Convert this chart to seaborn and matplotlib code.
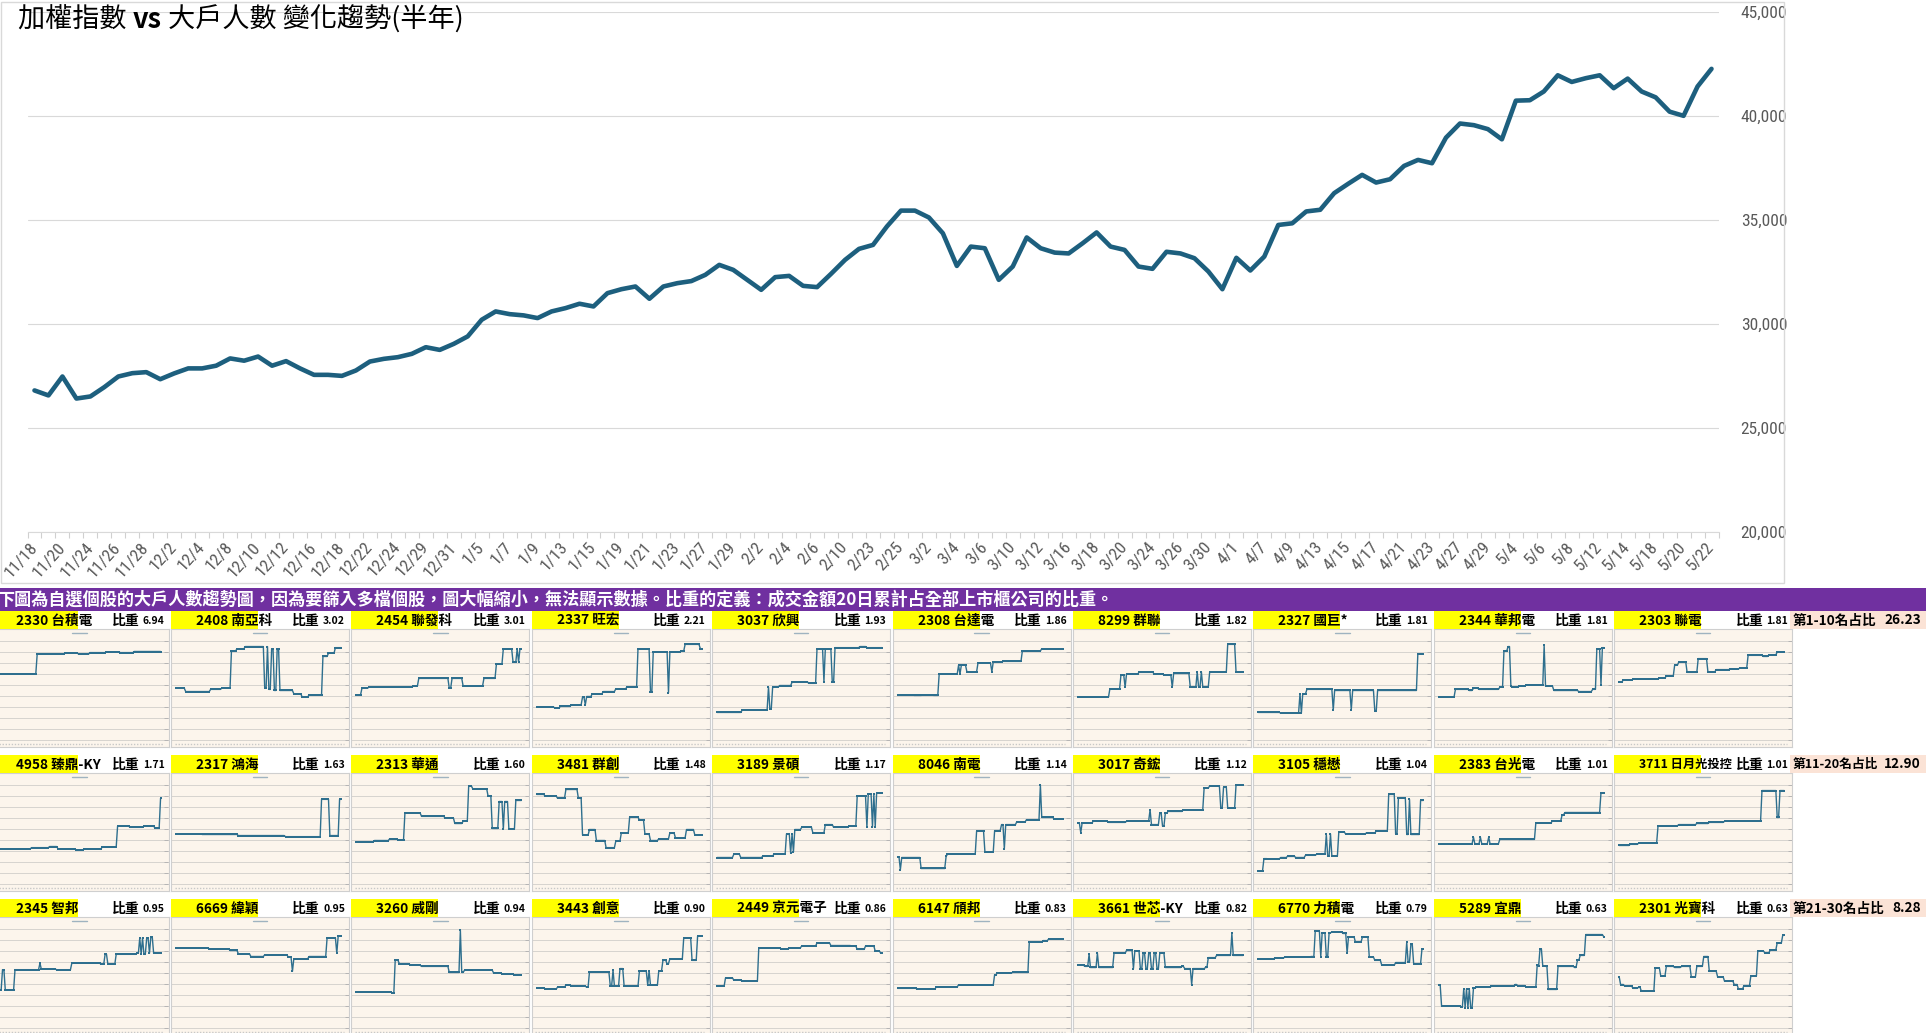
import numpy as np
import pandas as pd
import matplotlib
matplotlib.use("Agg")
import matplotlib.pyplot as plt
import seaborn as sns
from matplotlib import font_manager
from matplotlib.patches import Rectangle

# ---------------- data ----------------
DATES = ['11/18','11/19','11/20','11/21','11/24','11/25','11/26','11/27','11/28',
         '12/1','12/2','12/3','12/4','12/5','12/8','12/9','12/10','12/11','12/12',
         '12/15','12/16','12/17','12/18','12/19','12/22','12/23','12/24','12/26',
         '12/29','12/30','12/31','1/2','1/5','1/6','1/7','1/8','1/9','1/12','1/13',
         '1/14','1/15','1/16','1/19','1/20','1/21','1/22','1/23','1/26','1/27','1/28',
         '1/29','1/30','2/2','2/3','2/4','2/5','2/6','2/9','2/10','2/11','2/23','2/24',
         '2/25','2/26','3/2','3/3','3/4','3/5','3/6','3/9','3/10','3/11','3/12','3/13',
         '3/16','3/17','3/18','3/19','3/20','3/23','3/24','3/25','3/26','3/27','3/30',
         '3/31','4/1','4/2','4/7','4/8','4/9','4/10','4/13','4/14','4/15','4/16','4/17',
         '4/20','4/21','4/22','4/23','4/24','4/27','4/28','4/29','4/30','5/4','5/5',
         '5/6','5/7','5/8','5/11','5/12','5/13','5/14','5/15','5/18','5/19','5/20',
         '5/21','5/22']

TAIEX = [26810, 26570, 27480, 26420, 26520, 26970, 27480, 27640, 27690, 27350,
         27630, 27870, 27870, 28000, 28350, 28240, 28440, 28000, 28220, 27870,
         27560, 27560, 27510, 27770, 28200, 28330, 28410, 28570, 28890, 28760,
         29050, 29410, 30210, 30610, 30480, 30420, 30290, 30610, 30770, 30980,
         30850, 31490, 31680, 31810, 31220, 31810, 31970, 32070, 32370, 32850,
         32610, 32130, 31650, 32260, 32320, 31840, 31780, 32420, 33090, 33620,
         33810, 34700, 35460, 35460, 35130, 34370, 32800, 33730, 33650, 32130,
         32770, 34170, 33650, 33440, 33400, 33890, 34410, 33730, 33570, 32770,
         32660, 33480, 33400, 33170, 32530, 31680, 33190, 32580, 33250, 34770,
         34850, 35420, 35500, 36300, 36750, 37180, 36810, 36970, 37610, 37900,
         37740, 38970, 39650, 39570, 39380, 38890, 40750, 40770, 41190, 41970,
         41650, 41830, 41970, 41350, 41810, 41190, 40910, 40220, 40020, 41430, 42280]

Y_TICKS = [20000, 25000, 30000, 35000, 40000, 45000]

STOCK_CODES = ['2330','2408','2454','2337','3037','2308','8299','2327','2344','2303',
               '4958','2317','2313','3481','3189','8046','3017','3105','2383','3711',
               '2345','6669','3260','3443','2449','6147','3661','6770','5289','2301']
STOCK_NAMES = ['台積電','南亞科','聯發科','旺宏','欣興','台達電','群聯','國巨*','華邦電','聯電',
               '臻鼎-KY','鴻海','華通','群創','景碩','南電','奇鋐','穩懋','台光電','日月光投控',
               '智邦','緯穎','威剛','創意','京元電子','頎邦','世芯-KY','力積電','宜鼎','光寶科']
STOCK_WEIGHTS = ['6.94','3.02','3.01','2.21','1.93','1.86','1.82','1.81','1.81','1.81',
                 '1.71','1.63','1.60','1.48','1.17','1.14','1.12','1.04','1.01','1.01',
                 '0.95','0.95','0.94','0.90','0.86','0.83','0.82','0.79','0.63','0.63']
GROUP_LABELS = ['第1-10名占比', '第11-20名占比', '第21-30名占比']
GROUP_SHARES = ['26.23', '12.90', '8.28']

# large-holder trend per stock, read as (level, number of days) runs
S2330 = [(6.2,30),(8.0,20),(8.1,10),(8.0,8),(8.15,12),(8.2,10),(8.15,10),(8.25,20)]
S2408 = [(4.9,7),(4.6,18),(4.8,8),(4.9,7),(8.3,4),(8.5,6),(8.7,14),(4.9,2),(8.7,1),(4.8,2),
         (8.5,2),(4.7,2),(8.5,2),(4.7,10),(4.4,6),(4.1,5),(4.3,10),(7.8,4),(8.1,5),(8.6,5)]
S2454 = [(4.3,4),(4.9,5),(5.0,32),(5.1,4),(5.8,22),(4.9,2),(5.8,8),(5.1,15),(5.8,9),(7.1,5),
         (8.5,7),(7.3,3),(8.5,1),(7.3,1),(8.5,2)]
S2337 = [(3.2,13),(3.1,4),(3.25,8),(3.4,8),(4.1,2),(3.4,1),(4.15,4),(4.4,8),(4.6,9),(4.85,8),
         (5.0,8),(8.5,9),(4.6,2),(8.2,11),(4.5,1),(8.2,8),(8.3,3),(8.9,11),(8.5,2)]
S3037 = [(2.7,18),(2.9,19),(5.0,1),(3.0,2),(5.0,5),(5.15,9),(5.45,7),(5.5,5),(5.35,6),(8.5,5),
         (5.5,1),(8.5,5),(5.5,2),(8.6,18),(8.7,5),(8.6,12)]
S2308 = [(4.3,12),(4.25,6),(4.3,8),(4.25,4),(6.2,14),(7.0,1),(6.2,1),(7.0,4),(6.4,8),(7.2,10),
         (6.4,1),(7.3,7),(7.35,14),(8.3,14),(8.5,16)]
S8299 = [(4.1,23),(4.85,8),(6.1,3),(5.0,1),(6.2,9),(6.35,11),(6.2,7),(6.1,6),(5.0,1),(6.25,12),
         (5.0,5),(6.4,1),(5.0,2),(6.4,1),(5.05,5),(6.4,13),(8.9,6),(6.4,6)]
S2327 = [(2.7,16),(2.65,14),(4.4,1),(2.65,1),(4.4,3),(4.8,19),(2.9,1),(4.7,12),(2.95,1),(4.7,16),
         (2.8,2),(4.7,29),(8.0,5)]
S2344 = [(4.1,12),(4.8,10),(4.7,3),(4.9,4),(4.8,15),(5.0,3),(8.3,3),(8.7,2),(5.1,1),(5.0,5),
         (5.1,5),(5.2,13),(8.8,1),(5.1,6),(4.7,18),(4.6,10),(4.8,3),(8.5,3),(5.2,1),(8.6,2)]
S2303 = [(5.5,3),(5.65,7),(5.75,19),(5.85,5),(6.0,6),(7.0,3),(7.3,6),(6.35,8),(7.6,7),(6.4,6),
         (6.6,10),(6.65,7),(6.75,6),(7.9,11),(7.8,4),(7.95,6),(8.2,6)]
S4958 = [(3.4,26),(3.5,13),(3.6,6),(3.4,13),(3.3,6),(3.4,13),(3.55,11),(5.45,9),(5.35,10),
         (5.45,8),(5.3,4),(8.0,1)]
S2317 = [(4.75,19),(4.7,26),(4.6,34),(4.5,26),(7.9,6),(4.6,7),(7.9,2)]
S2313 = [(4.0,13),(4.15,11),(4.3,6),(4.2,5),(6.65,12),(6.35,17),(6.2,7),(5.7,6),(5.9,4),(9.1,3),
         (8.85,11),(8.2,3),(5.25,5),(7.7,3),(5.2,1),(7.7,3),(5.2,5),(7.8,5)]
S3481 = [(8.35,6),(8.2,9),(8.0,6),(8.8,9),(8.0,3),(4.65,5),(5.15,5),(4.15,7),(3.5,7),(4.1,4),
         (4.85,6),(6.3,7),(6.0,4),(4.75,4),(4.15,6),(4.3,8),(4.85,4),(4.4,8),(5.15,6),(4.65,6)]
S3189 = [(2.6,12),(2.9,5),(2.6,16),(2.75,8),(2.9,9),(4.75,3),(3.0,1),(4.75,1),(3.1,1),(5.15,5),
         (5.35,8),(4.85,9),(5.6,6),(5.35,11),(5.45,6),(8.2,7),(5.35,1),(8.4,3),(5.4,1),(8.35,1),
         (5.4,1),(8.45,5)]
S8046 = [(2.65,2),(1.5,1),(2.6,14),(1.6,18),(2.7,1),(2.9,21),(5.0,6),(3.1,7),(5.05,5),(5.6,2),
         (3.4,1),(5.6,8),(5.85,7),(6.05,10),(9.2,1),(6.25,9),(6.1,7)]
S3017 = [(5.75,2),(4.85,1),(5.75,8),(5.9,11),(5.8,13),(5.9,13),(5.95,4),(6.95,1),(5.6,6),(6.65,2),
         (5.45,2),(6.65,2),(6.8,11),(6.95,15),(8.95,4),(9.1,8),(7.1,2),(9.0,3),(7.1,6),(9.2,6)]
S3105 = [(1.4,4),(2.5,3),(2.45,9),(2.6,5),(2.7,6),(2.6,7),(2.8,8),(2.9,7),(4.7,1),(2.75,2),
         (4.75,1),(2.75,5),(4.9,5),(4.75,15),(4.85,7),(5.0,9),(8.35,5),(4.75,2),(8.0,6),(4.7,2),
         (7.9,1),(4.7,7),(7.8,3)]
S2383 = [(3.85,25),(4.45,1),(3.85,4),(4.45,1),(3.85,5),(4.45,1),(3.85,7),(4.25,26),(5.75,12),
         (5.95,7),(6.5,2),(6.7,26),(8.5,3)]
S3711 = [(3.7,8),(3.8,6),(3.9,14),(5.45,6),(5.5,9),(5.6,13),(5.7,9),(5.8,11),(5.9,14),(5.95,13),
         (8.7,11),(6.25,2),(8.7,4)]
S2345 = [(5.5,2),(3.65,3),(5.5,2),(3.65,7),(5.5,18),(6.1,1),(5.55,11),(5.5,11),(6.1,21),(6.0,3),
         (6.9,2),(6.0,6),(6.9,15),(7.0,2),(8.4,1),(6.9,1),(8.4,1),(6.9,2),(8.4,2),(7.0,1),(8.5,2),
         (7.0,6)]
S6669 = [(7.5,24),(7.4,15),(7.25,6),(6.95,9),(6.7,10),(6.85,17),(6.65,3),(5.35,1),(6.5,11),
         (6.7,13),(8.4,7),(7.0,1),(8.55,3)]
S3260 = [(3.45,26),(3.35,2),(6.35,3),(6.05,8),(5.9,8),(5.8,20),(5.25,8),(9.1,1),(5.25,2),
         (5.45,21),(5.2,6),(5.1,9),(5.0,6)]
S3443 = [(3.85,6),(3.75,9),(3.9,6),(4.1,4),(4.0,11),(3.9,2),(5.3,15),(4.05,2),(5.45,1),(4.0,4),
         (5.6,3),(4.0,11),(5.35,6),(4.1,1),(5.4,1),(4.1,6),(5.4,3),(6.35,3),(6.05,2),(6.5,10),
         (8.4,6),(6.35,4),(8.55,4)]
S2449 = [(4.0,6),(4.75,6),(4.55,6),(4.45,12),(7.5,16),(7.4,6),(7.5,9),(7.65,11),(7.95,10),
         (7.7,15),(7.65,4),(7.35,6),(7.65,7),(7.2,4),(7.0,2)]
S6147 = [(3.8,14),(3.75,14),(3.95,16),(4.1,26),(5.05,2),(5.2,11),(5.25,12),(8.0,10),(8.15,4),
         (8.3,11)]
S3661 = [(5.9,5),(5.8,3),(6.9,1),(5.7,5),(7.0,1),(5.7,11),(7.0,9),(7.25,5),(5.6,1),(7.2,4),
         (5.6,2),(7.0,2),(5.6,2),(7.0,2),(5.6,2),(7.0,2),(5.6,2),(7.0,4),(5.7,12),(5.8,2),(5.6,5),
         (4.15,1),(5.6,9),(5.7,2),(6.6,6),(6.8,11),(8.8,1),(6.8,8)]
S6770 = [(6.45,6),(6.5,6),(6.55,7),(6.65,19),(6.7,3),(9.0,4),(6.7,1),(8.85,3),(6.7,2),(8.85,2),
         (8.95,8),(8.8,3),(7.0,1),(8.5,5),(8.0,5),(8.45,5),(6.65,4),(6.35,5),(5.9,10),(6.15,8),
         (8.0,1),(6.2,2),(7.8,2),(6.05,6),(7.4,2)]
S5289 = [(4.1,2),(2.2,14),(2.1,2),(3.75,1),(2.05,1),(3.75,1),(2.05,1),(3.75,1),(2.05,2),(3.8,2),
         (3.9,11),(4.0,17),(4.15,2),(4.05,6),(3.9,8),(5.95,1),(5.8,1),(7.4,2),(5.85,2),(5.8,2),
         (3.7,7),(5.8,12),(5.7,2),(6.35,2),(6.8,4),(8.7,13),(8.5,1)]
S2301 = [(4.85,1),(4.15,3),(4.0,6),(3.8,4),(3.9,2),(3.55,10),(5.65,4),(4.9,4),(5.8,6),(5.7,5),
         (5.8,7),(4.85,4),(5.8,5),(6.7,4),(5.35,6),(4.85,5),(4.45,7),(4.15,3),(3.75,4),(4.05,5),
         (4.95,5),(7.2,5),(7.05,4),(7.3,5),(7.95,4),(8.65,2)]

SERIES = [S2330, S2408, S2454, S2337, S3037, S2308, S8299, S2327, S2344, S2303,
          S4958, S2317, S2313, S3481, S3189, S8046, S3017, S3105, S2383, S3711,
          S2345, S6669, S3260, S3443, S2449, S6147, S3661, S6770, S5289, S2301]

BANNER = '下圖為自選個股的大戶人數趨勢圖，因為要篩入多檔個股，圖大幅縮小，無法顯示數據。比重的定義：成交金額20日累計占全部上市櫃公司的比重。'
TITLE_PARTS = [('加權指數 ', 'normal'), ('vs', 'bold'), (' 大戶人數 變化趨勢(半年)', 'normal')]

# ---------------- style ----------------
sns.set_theme(style='white')
avail = {f.name for f in font_manager.fontManager.ttflist}
NARROW = next((f for f in ['Liberation Sans Narrow', 'Roboto Condensed', 'Liberation Sans']
               if f in avail), 'DejaVu Sans')
CJK = 'Noto Sans CJK TC'
plt.rcParams['font.family'] = [CJK, 'DejaVu Sans']

W, H = 1926, 1033
fig = plt.figure(figsize=(W / 100, H / 100), dpi=100)
fig.patch.set_facecolor('white')
renderer = fig.canvas.get_renderer()


def frect(x0, y0, x1, y1, **kw):
    """rectangle in pixel coords (y from top)"""
    fig.patches.append(Rectangle((x0 / W, 1 - y1 / H), (x1 - x0) / W, (y1 - y0) / H,
                                 transform=fig.transFigure, **kw))


def ftext(x, y, s, **kw):
    return fig.text(x / W, 1 - y / H, s, **kw)


def px_extent(t):
    bb = t.get_window_extent(renderer=renderer)
    return bb.x0, bb.x1


def fit_left_of(t, limit_px, min_size=7.0):
    """shrink text t until its right edge lies left of limit_px (pixel x)"""
    while px_extent(t)[1] > limit_px and t.get_fontsize() > min_size:
        t.set_fontsize(t.get_fontsize() - 0.2)


# ---------------- main chart ----------------
frect(0.5, 2, 1784, 583, fill=False, ec='#d9d9d9', lw=1)
tx = 18
for part, wt in TITLE_PARTS:
    t = ftext(tx, 20, part, fontsize=19.5, fontweight=wt, va='center', ha='left', color='black')
    tx += t.get_window_extent(renderer=renderer).width

ax = fig.add_axes([27.5 / W, 1 - 532 / H, (1718.5 - 27.5) / W, (532 - 12.3) / H])
df = pd.DataFrame({'i': np.arange(len(TAIEX)), 'v': TAIEX})
sns.lineplot(data=df, x='i', y='v', ax=ax, color='#1d5f7e', lw=3.3)
ax.set_xlim(-0.5, len(TAIEX) - 0.5)
ax.set_ylim(Y_TICKS[0], Y_TICKS[-1])
ax.set_yticks(Y_TICKS)
ax.yaxis.tick_right()
ax.set_yticklabels([f'{v:,}' for v in Y_TICKS], fontfamily=NARROW, fontsize=12.5, color='#595959')
ax.tick_params(axis='y', length=0, pad=16)
ax.grid(True, axis='y', color='#d9d9d9', lw=0.8)
ax.grid(False, axis='x')
ax.set_axisbelow(True)
ax.set_xticks(np.arange(0, len(DATES), 2))
ax.set_xticklabels(DATES[::2], rotation=48, ha='right', va='center', rotation_mode='anchor',
                   fontfamily=NARROW, fontsize=12.5, color='#595959')
ax.tick_params(axis='x', which='major', length=0, pad=9)
ax.set_xticks(np.arange(-0.5, len(DATES), 1), minor=True)
ax.tick_params(axis='x', which='minor', bottom=True, length=4, color='#d0d0d0', width=0.8)
for s in ['top', 'left', 'right']:
    ax.spines[s].set_visible(False)
ax.spines['bottom'].set_color('#d9d9d9')
ax.spines['bottom'].set_linewidth(0.8)
ax.set_xlabel('')
ax.set_ylabel('')
ax.set_facecolor('white')

# ---------------- banner ----------------
frect(0, 588, W, 611, color='#7030a0', lw=0)
ftext(-3, 600, BANNER, fontsize=12.3, color='white', fontweight='bold', va='center', ha='left')

# ---------------- small panels ----------------
PANEL_X0, PANEL_DX, PANEL_W = -9.4, 180.4, 178
HEAD_TOPS = [611, 755, 899]
HEAD_H, PANEL_H = 18, 118

for k in range(len(SERIES)):
    r, c = divmod(k, 10)
    left = PANEL_X0 + c * PANEL_DX
    right = left + PANEL_W
    htop = HEAD_TOPS[r]
    top = htop + HEAD_H
    ymid = htop + HEAD_H / 2 + 0.5

    # header
    frect(left, htop, left + 87, htop + HEAD_H, color='#ffff00', lw=0)
    tw = ftext(right - 29, ymid, '比重', fontsize=10, fontweight='bold', va='center', ha='right',
               color='black')
    ftext(right - 4, ymid + 1, STOCK_WEIGHTS[k], fontsize=7.5, fontweight='bold', va='center',
          ha='right', color='black')
    tn = ftext(left + 25, ymid, f'{STOCK_CODES[k]} {STOCK_NAMES[k]}', fontsize=9.8,
               fontweight='bold', va='center', ha='left', color='black')
    fit_left_of(tn, px_extent(tw)[0] - 2)

    axp = fig.add_axes([left / W, 1 - (top + PANEL_H) / H, PANEL_W / W, PANEL_H / H])
    axp.set_facecolor('#fcf5ec')
    lv = [a for a, _ in SERIES[k]]
    ct = [b for _, b in SERIES[k]]
    vals = np.repeat(lv, ct)
    for g in np.arange(0.2, 10, 1):
        axp.axhline(g, color='#d6d3cf', lw=0.7, zorder=0)
    sns.lineplot(x=np.arange(len(vals)), y=vals, ax=axp, color='#2e6f8e', lw=1.0,
                 marker='s', markersize=1.8, markeredgewidth=0, zorder=3)
    axp.set_xlim(-3.6, 124.8)
    axp.set_ylim(-0.45, 10.3)
    axp.plot(np.full(10, 123.2), np.arange(0.2, 10, 1), ls='none', marker='_', ms=2.5,
             mew=0.7, color='#b5b5b5')
    axp.plot([0.46, 0.54], [0.965, 0.965], transform=axp.transAxes, color='#9fb3c0', lw=1)
    axp.plot([0.02, 0.97], [0.025, 0.025], transform=axp.transAxes, color='#c8c8c8', lw=1,
             ls=(0, (1, 1.2)))
    axp.set_xticks([])
    axp.set_yticks([])
    axp.set_xlabel('')
    axp.set_ylabel('')
    for s in axp.spines.values():
        s.set_color('#cfcfcf')
        s.set_linewidth(0.8)

# group share labels
for r in range(3):
    htop = HEAD_TOPS[r]
    frect(1790, htop, W, htop + HEAD_H, color='#fbe3d6', lw=0)
    ts = ftext(1921, htop + HEAD_H / 2 + 0.5, GROUP_SHARES[r], fontsize=9.8, fontweight='bold',
               va='center', ha='right', color='black')
    tl = ftext(1793, htop + HEAD_H / 2 + 0.5, GROUP_LABELS[r], fontsize=9.8, fontweight='bold',
               va='center', ha='left', color='black')
    fit_left_of(tl, px_extent(ts)[0] - 5)

fig.savefig('out.png', dpi=100, facecolor='white')
